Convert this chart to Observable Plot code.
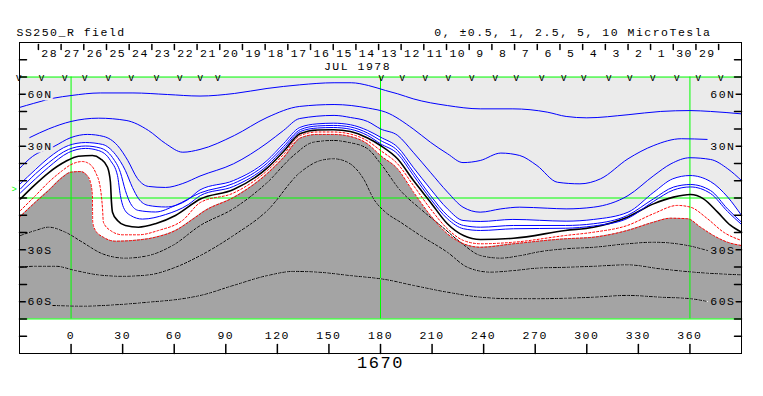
<!DOCTYPE html>
<html><head><meta charset="utf-8">
<script src="https://cdn.jsdelivr.net/npm/d3@7"></script>
<script src="https://cdn.jsdelivr.net/npm/@observablehq/plot@0.6"></script>
<style>body{margin:0;background:#fff;}#chart{width:763px;height:396px;}</style>
</head><body><div id="chart"></div>
<script>
// ---- text ----
const titleText = "SS250_R field";
const legendText = "0, \u00b10.5, 1, 2.5, 5, 10 MicroTesla";
const rotationText = "1670";
const monthText = "JUL 1978";
// ---- axes ----
const lonTicks = [0, 30, 60, 90, 120, 150, 180, 210, 240, 270, 300, 330, 360];
const latTicks = [-80, -70, -60, -50, -40, -30, -20, -10, 0, 10, 20, 30, 40, 50, 60, 70, 80];
const latLabelValues = [60, 30, -30, -60];
const latLabelTexts = ["60N", "30N", "30S", "60S"];
const mapTop = 70, mapBottom = -70;
const guideLons = [0, 180, 360];
const guideLats = [70, 0, -70];
const b0Lat = [5.3];
// ---- dates along the top (day of month, tick longitudes) ----
const dateLabels = [28,27,26,25,24,23,22,21,20,19,18,17,16,15,14,13,12,11,10,9,8,7,6,5,4,3,2,1,30,29];
const dateTickLons = [-19.0,-5.8,7.4,20.6,33.8,47.0,60.1,73.3,86.5,99.7,112.9,126.1,139.3,152.5,165.7,178.9,192.0,205.2,218.4,231.6,244.8,258.0,271.2,284.4,297.6,310.8,324.0,337.1,350.3,363.5,376.7];
const obsLons = [-30,-16.8,-3.3,8.4,22.0,35.5,50.1,63.6,75.6,85.7,180.9,193.1,206.4,219.8,233.5,247.2,259.4,274.2,287.0,298.6,313.2,325.4,338.8,352.7,365.3,378.4];
// ---- contours (lon, lat) ----
const b1Lon = [-30,-22,-10,0,17,36,56,75,95,114,133,153,163,173,183,190,199,219,238,257,277,288,300,324,343,360,372,390];
const b1Lat = [52.4,54.7,57.8,59.3,60.8,60.8,59.9,59.0,60.5,63.4,65.5,66.7,66.7,65.1,62.2,60.3,57.4,53.5,51.6,51.6,49.7,47.2,46.4,48.2,50.1,50.6,50.1,48.7];
const b2Lon = [-24,-13,0,16,32,45,55,65,75,95,114,133,153,173,183,199,209,219,228,238,250,261,271,283,296,308,324,339,355,370];
const b2Lat = [35.0,40.0,44.3,46.2,44.9,39.1,31.5,26.5,28.1,36.2,46.6,53.0,54.1,52.0,49.7,40.0,32.3,25.6,20.5,21.7,26.0,24.6,18.8,9.1,8.2,11.1,22.7,30.4,34.3,33.9];
const b3Lon = [-30,-22.5,-10,0,9.5,19,27,33,38.6,45,55,65,75,94.5,114,123.6,133,153,162.5,172.5,180,190,199,209,219,228,238,250,261,277,288,304,324,339,349,360,372,382,390];
const b3Lat = [17.1,24.0,29.8,35.0,36.8,35.6,30.4,21.7,11.3,6.7,6.1,8.4,12.7,19.8,31.8,39.1,46.0,47.8,46.6,44.3,40.0,36.2,26.5,14.9,3.4,-5.3,-8.2,-6.3,-5.3,-5.9,-6.3,-5.3,1.4,13.0,19.8,23.3,22.3,16.9,10.1];
const b4Lon = [-30,-20.7,-13.1,-1.5,8.4,18.3,25.8,31.6,35.7,39.2,45,55,68,75,94.5,114,123.6,133,143,152.6,162.5,172.5,180,190,199,209,219,228,238,257,288,304,324,339,350,360,372,382,390];
const b4Lat = [7.8,16.5,23.2,30.4,32.1,31.0,25.2,15.9,6.1,-0.3,-4.3,-5.2,-0.9,4.7,10.1,21.7,31.5,40.8,42.9,43.3,42.4,39.1,35.2,29.4,17.8,5.3,-6.3,-13.0,-13.6,-12.4,-13.4,-12.4,-8.2,3.4,11.1,13.0,9.5,0.5,-10.1];
const b5Lon = [-29.4,-20.7,-13.1,-1.5,8.4,17.1,24.1,28.7,31.6,34.6,39.2,49.1,60.7,75.2,94.5,114.2,123.6,133.4,143.3,152.6,162.5,172.5,180,189.9,199.2,209.1,218.9,228.3,238.2,257.4,287.6,303.9,323.6,338.8,350.4,360.3,372,381.9,390];
const b5Lat = [5.3,14.0,20.4,28.1,30.1,28.9,23.4,14.8,4.3,-3.2,-7.2,-8.1,-4.3,3.0,8.4,20.3,29.8,39.6,41.7,42.0,41.1,37.6,33.3,27.5,14.9,1.4,-10.1,-15.9,-16.9,-15.9,-15.9,-14.9,-10.1,-0.5,6.3,7.8,4.3,-6.3,-14.0];
const b6Lon = [-29.4,-20.7,-13.1,-1.5,8.4,15.9,22.9,27.0,28.7,30.5,34.6,41.5,54.9,68.2,75.2,94.5,114.2,123.6,133.4,143.3,152.6,162.5,172.5,180,189.9,199.2,209.1,218.9,228.3,238.2,257.4,287.6,303.9,323.6,338.8,350.4,360.3,372,381.9,390];
const b6Lat = [3.0,11.1,17.8,26.3,28.7,27.5,21.7,13.0,1.4,-5.5,-10.1,-12.2,-9.6,-3.8,1.4,6.7,18.8,28.4,38.5,40.5,40.8,39.8,36.2,31.4,25.6,13.0,-0.5,-12.0,-17.8,-18.8,-17.8,-17.5,-16.2,-11.9,-2.0,4.6,6.4,2.6,-7.8,-15.3];
const zeroLon = [-29.4,-22.5,-13.1,-3.3,4.3,12.4,17.1,21.2,22.9,23.5,24.1,27.0,31.6,39.2,49.1,60.7,75.2,94.5,114.2,123.6,133.4,143.3,152.6,162.5,172.5,180,189.9,199.2,209.1,218.9,228.3,238.2,257.4,287.6,303.9,323.6,338.8,350.4,360.3,367.9,376.1,383.7,390];
const zeroLat = [-0.5,6.3,14.6,21.1,24.2,24.6,22.7,17.8,9.1,-2.4,-8.2,-13.0,-15.9,-16.9,-14.9,-10.1,-0.6,4.9,17.4,26.9,37.3,39.4,39.5,38.5,34.7,30.4,22.7,10.1,-2.4,-14.9,-21.7,-24.0,-23.3,-18.8,-16.9,-11.1,-3.4,0.5,2.0,-0.5,-8.2,-15.9,-19.8];
const r1Lon = [-29.4,-20.7,-13.1,-5.0,-0.3,6.6,9.5,14.2,17.1,18.3,18.8,22.9,29.9,39.2,50.8,64.8,75.2,94.5,114.2,123.6,133.4,143.3,152.6,162.5,172.5,180,189.9,199.2,209.1,218.9,228.3,238.2,257.4,287.6,303.9,323.6,338.8,352.8,360.3,370.2,379.6,390];
const r1Lat = [-7.2,1.4,9.1,15.9,19.2,21.1,20.4,14.9,5.3,-6.3,-14.0,-18.8,-21.3,-21.3,-18.8,-13.0,-2.6,2.9,15.9,25.2,36.2,38.2,38.2,37.0,33.0,27.5,19.8,7.2,-6.3,-17.8,-24.6,-26.5,-25.6,-21.7,-19.8,-15.9,-9.1,-4.3,-5.3,-12.0,-19.8,-24.6];
const r2Lon = [-30,-20.7,-13.1,-5.0,-0.3,5.5,9.0,11.3,12.4,12.6,14.2,18.8,25.8,35.7,49.1,60.7,70.6,78.1,94.5,114.2,123.6,133.4,143.3,152.6,162.5,172.5,180,189.9,199.2,209.1,218.9,228.3,238.2,257.4,287.6,303.9,323.6,338.8,348.7,358.6,366.2,373.7,381.9,390];
const r2Lat = [-11.1,-2.4,4.3,12.0,14.9,15.3,13.4,9.1,1.4,-14.0,-18.8,-22.7,-25.0,-24.6,-22.7,-18.8,-12.4,-7.2,0.3,14.2,23.4,34.7,36.8,36.8,35.6,31.3,24.6,16.9,3.4,-10.1,-20.7,-26.5,-28.5,-26.5,-23.6,-22.7,-18.8,-14.0,-11.7,-12.0,-16.9,-21.7,-25.6,-27.5];
const d1Lon = [-29.4,-20.7,-13.1,-3.3,6.6,18.3,31.6,45.0,59.0,75.2,94.5,114.2,129.4,141.0,152.6,160.8,172.5,180.0,191.6,203.2,214.9,226.5,238.2,249.8,261.4,273.1,287.6,303.9,323.6,338.8,358.6,370.2];
const d1Lat = [-21.7,-18.8,-16.9,-19.8,-25.6,-32.3,-34.8,-33.3,-27.5,-15.9,-6.1,9.1,24.6,32.3,33.3,32.3,28.5,20.0,4.3,-6.3,-15.9,-25.6,-33.3,-34.8,-33.3,-31.0,-29.4,-28.5,-26.5,-25.6,-27.5,-30.4];
const d2Lon = [-29.4,-20.7,-9.1,2.6,15.9,29.9,45.0,60.7,75.2,94.5,114.2,133.4,145.1,152.6,160.8,170.1,176.0,182.9,191.6,203.2,218.9,230.6,244.0,257.4,271.3,287.6,303.9,323.6,342.9,362.1,390];
const d2Lat = [-40.1,-39.5,-39.5,-42.0,-44.5,-45.3,-44.5,-40.1,-33.3,-21.7,-7.2,14.9,21.7,22.7,20.7,11.1,-0.5,-8.2,-14.0,-21.7,-31.4,-40.1,-42.9,-42.0,-40.6,-40.1,-39.5,-38.7,-41.0,-42.9,-44.5];
const d3Lon = [-10.8,6.6,25.8,45.0,64.8,75.2,94.5,114.2,129.4,143.3,162.5,182.9,199.2,218.9,238.2,257.4,271.3,287.6,303.9,323.6,342.9,360.3,370.2];
const d3Lat = [-62.2,-62.6,-61.8,-60.3,-58.3,-56.4,-50.6,-44.9,-42.5,-42.9,-44.9,-47.2,-50.6,-54.5,-57.4,-58.3,-58.3,-58.0,-57.4,-56.4,-57.4,-58.3,-59.9];

// ---- build ----
const pts = (lon, lat) => lon.map((x, i) => ({lon: x, lat: lat[i]}));
const light = "#ebebeb", dark = "#a4a4a4", green = "#00ff00", blue = "#0000ff", red = "#ff0000";
const mono = "Liberation Mono, monospace";
const cl = (lon, lat, stroke, extra = {}) =>
  Plot.line(pts(lon, lat), {x: "lon", y: "lat", stroke, strokeWidth: 1, curve: "monotone-x", ...extra});
const dotted = (lon, lat) => [
  cl(lon, lat, "white"),
  cl(lon, lat, "black", {strokeDasharray: "3,1.5"})
];
const tickR = {draw(c, l) { c.moveTo(0, 0); c.lineTo(l, 0); }};
const tickL = {draw(c, l) { c.moveTo(0, 0); c.lineTo(-l, 0); }};
const tickU = {draw(c, l) { c.moveTo(0, 0); c.lineTo(0, -l); }};
const tickD = {draw(c, l) { c.moveTo(0, 0); c.lineTo(0, l); }};
const dateCells = dateLabels.map((d, i) => ({day: String(d), lon: (dateTickLons[i] + dateTickLons[i + 1]) / 2}));
const latLabels = latLabelValues.map((v, i) => ({lat: v, t: latLabelTexts[i], bg: v > 0 ? light : dark}));
const txt = {fontFamily: mono, fontSize: 11.5, fill: "black"};

const chart = Plot.plot({
  width: 763, height: 396,
  marginLeft: 19, marginRight: 22, marginTop: 42, marginBottom: 43,
  x: {domain: [-30, 390], axis: null},
  y: {domain: [-90, 90], axis: null},
  style: {background: "white", letterSpacing: "1.5px", overflow: "visible"},
  marks: [
    Plot.areaY(pts(b4Lon, b4Lat), {x: "lon", y1: mapTop, y2: "lat", fill: light, curve: "monotone-x"}),
    Plot.areaY(pts(r2Lon, r2Lat), {x: "lon", y1: mapBottom, y2: "lat", fill: dark, curve: "monotone-x"}),
    Plot.ruleY(guideLats, {stroke: green, strokeWidth: 1}),
    Plot.ruleX(guideLons, {y1: mapBottom, y2: mapTop, stroke: green, strokeWidth: 1}),
    ...dotted(d1Lon, d1Lat),
    ...dotted(d2Lon, d2Lat),
    ...dotted(d3Lon, d3Lat),
    cl(r2Lon, r2Lat, red, {strokeDasharray: "2,2"}),
    cl(r1Lon, r1Lat, red, {strokeDasharray: "2,2"}),
    cl(zeroLon, zeroLat, "black", {strokeWidth: 1.6}),
    cl(b6Lon, b6Lat, blue),
    cl(b5Lon, b5Lat, blue),
    cl(b4Lon, b4Lat, blue),
    cl(b3Lon, b3Lat, blue),
    cl(b2Lon, b2Lat, blue),
    cl(b1Lon, b1Lat, blue),
    Plot.frame({stroke: "black"}),
    Plot.vector(latTicks, {y: d => d, frameAnchor: "left", length: 7, anchor: "start", shape: tickR, stroke: "black"}),
    Plot.vector(latTicks, {y: d => d, frameAnchor: "right", length: 7, anchor: "start", shape: tickL, stroke: "black"}),
    Plot.vector(lonTicks, {x: d => d, frameAnchor: "bottom", length: 9, anchor: "start", shape: tickU, stroke: "black"}),
    Plot.vector(dateTickLons, {x: d => d, frameAnchor: "top", dy: 2, length: 5, anchor: "start", shape: tickD, stroke: "black"}),
    Plot.text(latLabels, {y: "lat", text: "t", frameAnchor: "left", dx: 8, textAnchor: "start", stroke: "bg", strokeWidth: 5, ...txt}),
    Plot.text(latLabels, {y: "lat", text: "t", frameAnchor: "right", dx: -6, textAnchor: "end", stroke: "bg", strokeWidth: 5, ...txt}),
    Plot.text(lonTicks, {x: d => d, text: d => String(d), frameAnchor: "bottom", dy: -14.5, ...txt}),
    Plot.text([rotationText], {text: d => d, frameAnchor: "bottom", dy: 14.5, ...txt, fontSize: 17}),
    Plot.text(dateCells, {x: "lon", text: "day", frameAnchor: "top", dy: 6.5, ...txt}),
    Plot.text([monthText], {text: d => d, frameAnchor: "top", dx: -23, dy: 19.5, ...txt}),
    Plot.text(obsLons, {x: d => d, text: () => "v", frameAnchor: "top", dy: 31, ...txt, fontSize: 10}),
    Plot.text([titleText], {text: d => d, frameAnchor: "top-left", dx: -3, dy: -15, textAnchor: "start", ...txt}),
    Plot.text([legendText], {text: d => d, frameAnchor: "top-right", dx: -30, dy: -15, textAnchor: "end", ...txt}),
    Plot.text(b0Lat, {y: d => d, text: () => ">", frameAnchor: "left", dx: -1, textAnchor: "end", fill: green, fontSize: 9, fontFamily: mono})
  ]
});
document.getElementById("chart").appendChild(chart);
</script>
</body></html>
